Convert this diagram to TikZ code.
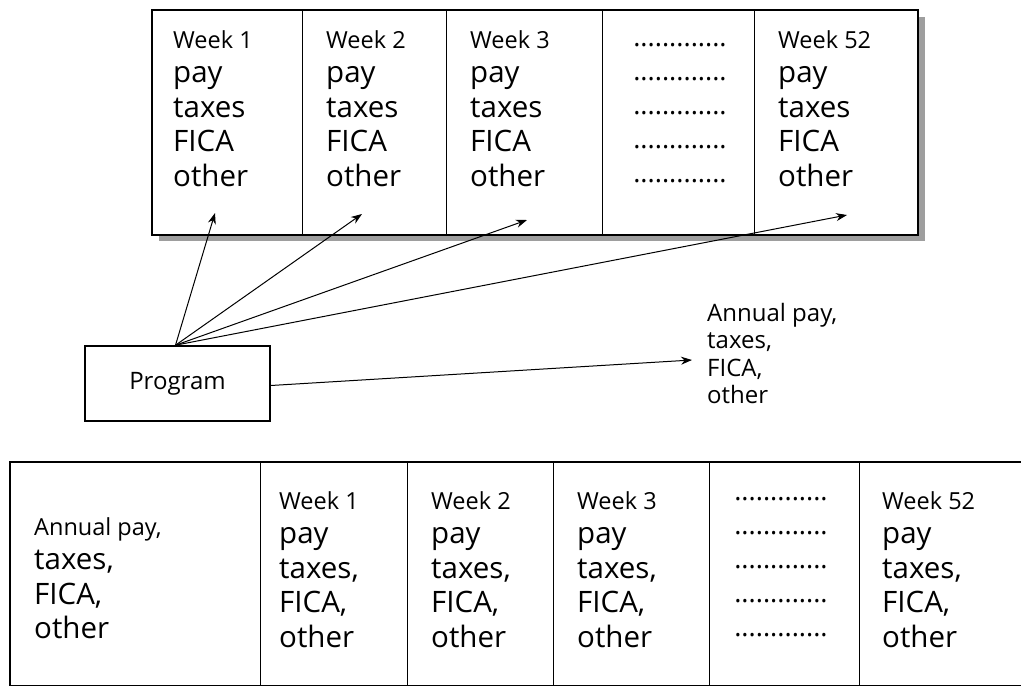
\documentclass[tikz,border=0pt]{standalone}
\usepackage{fontspec}
\setmainfont{Open Sans}
\usetikzlibrary{arrows.meta}
\newcommand\smallline[1]{{\fontsize{23.5}{27}\selectfont #1}}
\begin{document}
\begin{tikzpicture}[x=1pt,y=-1pt,
  cell/.style={draw,line width=1.3pt,fill=white,inner sep=0pt,anchor=north west},
  frame/.style={draw,line width=1.8pt},
  col/.style={anchor=north west,align=left,inner sep=0pt,
              font=\fontsize{29.5}{34.5}\selectfont},
  dots/.style={anchor=center,align=center,inner sep=0pt,
               font=\fontsize{27}{34.2}\selectfont},
  small/.style={anchor=north west,align=left,inner sep=0pt,
                font=\fontsize{24}{27.5}\selectfont},
  arr/.style={line width=1pt,-{Stealth[length=11pt,width=8pt]}},
  shadowfill/.style={fill=black!38}
]
\useasboundingbox (0,0) rectangle (1021,686);

% drop shadow of the weekly record strip
\fill[shadowfill] (159,17) rectangle (925,241);

% weekly record strip
\node[cell,minimum width=150pt,minimum height=224pt] (c1) at (152,10) {};
\node[cell,minimum width=144pt,minimum height=224pt] (c2) at (302,10) {};
\node[cell,minimum width=156pt,minimum height=224pt] (c3) at (446,10) {};
\node[cell,minimum width=152pt,minimum height=224pt] (c4) at (602,10) {};
\node[cell,minimum width=163pt,minimum height=224pt] (c5) at (754,10) {};
\draw[frame] (c1.north west) rectangle (c5.south east);

\node[col] (w1) at (173,30) {\smallline{Week 1}\\pay\\taxes\\FICA\\other};
\node[col] (w2) at (326,30) {\smallline{Week 2}\\pay\\taxes\\FICA\\other};
\node[col] (w3) at (470,30) {\smallline{Week 3}\\pay\\taxes\\FICA\\other};
\node[dots] (wd) at (680,113) {.............\\.............\\.............\\.............\\.............};
\node[col] (w52) at (778,30) {\smallline{Week 52}\\pay\\taxes\\FICA\\other};

% arrow targets inside the weekly cells
\coordinate (t1) at (215,213);
\coordinate (t2) at (362,214);
\coordinate (t3) at (527,220);
\coordinate (t4) at (847,215);
\coordinate (ta) at (692,360);

% program box
\node[draw,line width=1.6pt,minimum width=185pt,minimum height=75pt,
      inner sep=0pt,font=\fontsize{24}{28}\selectfont] (prog) at (177.5,383.5) {Program};

\node[small] (annual) at (707,303) {Annual pay,\\taxes,\\FICA,\\other};

\draw[arr] ([xshift=-2pt]prog.north) -- (t1);
\draw[arr] ([xshift=-2pt]prog.north) -- (t2);
\draw[arr] ([xshift=-2pt]prog.north) -- (t3);
\draw[arr] ([xshift=-2pt]prog.north) -- (t4);
\draw[arr] ([yshift=-2pt]prog.east) -- (ta);

% annual record strip
\node[cell,minimum width=250pt,minimum height=223pt] (b0) at (10,462) {};
\node[cell,minimum width=147pt,minimum height=223pt] (b1) at (260,462) {};
\node[cell,minimum width=146pt,minimum height=223pt] (b2) at (407,462) {};
\node[cell,minimum width=156pt,minimum height=223pt] (b3) at (553,462) {};
\node[cell,minimum width=150pt,minimum height=223pt] (b4) at (709,462) {};
\node[cell,minimum width=180pt,minimum height=223pt] (b5) at (859,462) {};
\draw[frame] (b0.north west) rectangle (b5.south east);

\node[col] (a0) at (34,517) {\smallline{Annual pay,}\\taxes,\\FICA,\\other};
\node[col] (a1) at (279,491) {\smallline{Week 1}\\pay\\taxes,\\FICA,\\other};
\node[col] (a2) at (431,491) {\smallline{Week 2}\\pay\\taxes,\\FICA,\\other};
\node[col] (a3) at (577,491) {\smallline{Week 3}\\pay\\taxes,\\FICA,\\other};
\node[dots] (ad) at (781,567) {.............\\.............\\.............\\.............\\.............};
\node[col] (a52) at (882,491) {\smallline{Week 52}\\pay\\taxes,\\FICA,\\other};
\end{tikzpicture}
\end{document}
